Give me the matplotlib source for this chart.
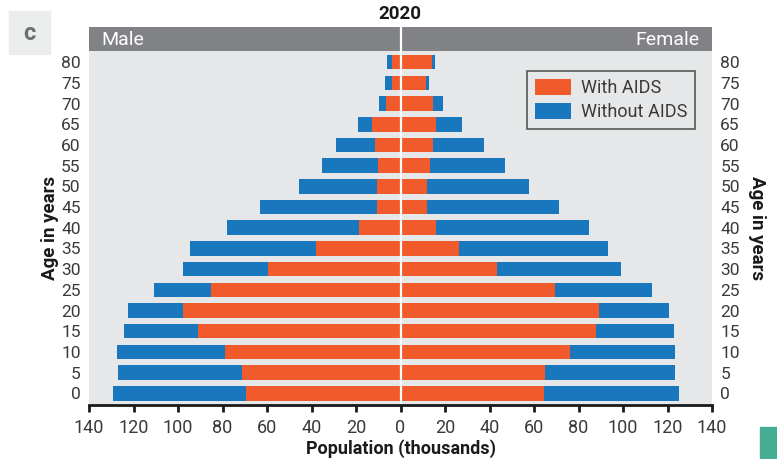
import matplotlib
matplotlib.use("Agg")
import matplotlib.pyplot as plt
from matplotlib.patches import Rectangle

ages = [0, 5, 10, 15, 20, 25, 30, 35, 40, 45, 50, 55, 60, 65, 70, 75, 80]

# population in thousands, by age group
male_with_aids = [69.5, 71.1, 78.8, 91.0, 97.7, 85.1, 59.4, 37.8, 18.5, 10.4,
                  10.4, 9.9, 11.3, 12.6, 6.3, 3.6, 4.0]
male_without_aids = [129.2, 127.0, 127.4, 124.3, 122.5, 110.8, 97.7, 94.5, 77.9, 63.0,
                     45.5, 35.1, 28.8, 18.9, 9.5, 6.8, 5.9]
female_with_aids = [64.4, 64.8, 76.1, 87.8, 89.1, 69.3, 43.2, 26.1, 15.8, 11.7,
                    11.7, 13.1, 14.4, 16.1, 14.4, 11.6, 14.0]
female_without_aids = [125.2, 123.4, 123.4, 122.9, 120.7, 113.0, 99.1, 93.2, 84.6, 71.1,
                       57.6, 46.8, 37.4, 27.5, 18.9, 12.6, 15.3]

xticks = [-140, -120, -100, -80, -60, -40, -20, 0, 20, 40, 60, 80, 100, 120, 140]

ORANGE = "#f15a2b"
BLUE = "#1877bd"
PANEL = "#e6e7e8"
HEADER = "#808285"
TEXT = "#3a3a3a"

plt.rcParams["font.family"] = ["Roboto", "DejaVu Sans"]

fig = plt.figure(figsize=(7.77, 4.59), dpi=100)

ax = fig.add_axes([89 / 777, 54 / 459, 623 / 777, 354 / 459])
ax.set_facecolor(PANEL)

pos = list(range(len(ages)))
neg_without = [-v for v in male_without_aids]
neg_with = [-v for v in male_with_aids]

ax.barh(pos, neg_without, height=0.7, color=BLUE, label="Without AIDS")
ax.barh(pos, neg_with, height=0.7, color=ORANGE, label="With AIDS")
ax.barh(pos, female_without_aids, height=0.7, color=BLUE)
ax.barh(pos, female_with_aids, height=0.7, color=ORANGE)
ax.axvline(0, color="white", lw=1.6)

ax.set_xlim(-140, 140)
ax.set_ylim(-0.565, 16.54)
ax.set_xticks(xticks)
ax.set_xticklabels([str(abs(t)) for t in xticks], fontsize=13, color=TEXT)
ax.tick_params(axis="x", direction="out", length=5, width=2, color="#1a1a1a", pad=5)
ax.set_yticks(pos)
ax.set_yticklabels([str(a) for a in ages], fontsize=12.5, color=TEXT)
ax.tick_params(axis="y", length=0, pad=6, labelleft=True, labelright=True)
for side in ["top", "left", "right"]:
    ax.spines[side].set_visible(False)
ax.spines["bottom"].set_linewidth(2)
ax.spines["bottom"].set_color("#1a1a1a")

ax.set_xlabel("Population (thousands)", fontsize=13, fontweight="bold",
              color="#1a1a1a", labelpad=2)

handles, labels = ax.get_legend_handles_labels()
leg = ax.legend(handles[::-1], labels[::-1], loc="upper right",
                bbox_to_anchor=(0.973, 0.9435), frameon=True, fancybox=False,
                facecolor=PANEL, edgecolor="#333333", fontsize=13,
                handlelength=2.0, handleheight=1.0, borderpad=0.45,
                labelspacing=0.3, handletextpad=0.55, borderaxespad=0)
leg.get_frame().set_linewidth(1.2)
for t in leg.get_texts():
    t.set_color(TEXT)

# gray header band with the sex labels
hdr = fig.add_axes([89 / 777, 408 / 459, 623 / 777, 24 / 459])
hdr.set_facecolor(HEADER)
hdr.set_xlim(-140, 140)
hdr.set_ylim(0, 1)
hdr.axvline(0, color="white", lw=1.6)
hdr.set_xticks([])
hdr.set_yticks([])
for s in hdr.spines.values():
    s.set_visible(False)
hdr.text(-134.5, 0.45, "Male", color="white", fontsize=14,
         ha="left", va="center")
hdr.text(134.5, 0.45, "Female", color="white", fontsize=14,
         ha="right", va="center")

fig.text(400 / 777, 1 - 14 / 459, "2020", ha="center", va="center",
         fontsize=13.5, fontweight="bold", color="#1a1a1a")
fig.text(50 / 777, 1 - 228 / 459, "Age in years", rotation=90, ha="center",
         va="center", fontsize=13.5, fontweight="bold", color="#1a1a1a")
fig.text(757 / 777, 1 - 228 / 459, "Age in years", rotation=270, ha="center",
         va="center", fontsize=13.5, fontweight="bold", color="#1a1a1a")

# panel letter box and corner tab
fig.patches.append(Rectangle((9 / 777, 1 - 54 / 459), 41 / 777, 43 / 459,
                             transform=fig.transFigure, color="#ebecec", zorder=0))
fig.text(29.5 / 777, 1 - 33 / 459, "c", ha="center", va="center",
         fontsize=17, fontweight="bold", color="#6d6e70")
fig.patches.append(Rectangle((760 / 777, 0), 17 / 777, 32 / 459,
                             transform=fig.transFigure, color="#47ac94", zorder=0))

fig.savefig("out.png", dpi=100)
